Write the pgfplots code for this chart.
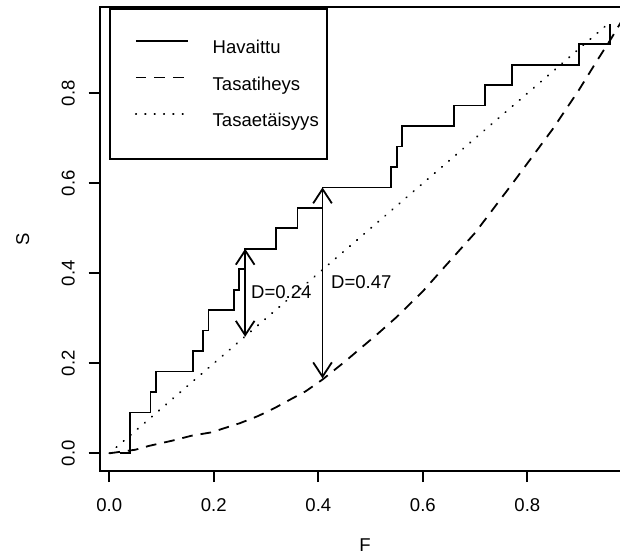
\documentclass[border=0pt]{standalone}
\usepackage{fontspec}
\setmainfont{Liberation Sans}
\usepackage{pgfplots}
\pgfplotsset{compat=1.18}
\usetikzlibrary{arrows.meta}

\tikzset{
  darrow/.style={line width=1.35pt, black,
    arrows={Straight Barb[length=10.7pt,width=14pt]-Straight Barb[length=10.7pt,width=14pt]}},
}

\begin{document}
\fontsize{13.9pt}{16.7pt}\selectfont
\begin{tikzpicture}
\begin{axis}[
    at={(75pt,63.2pt)}, anchor=south west,
    scale only axis,
    width=397.5pt, height=347.55pt,
    xmin=-0.0178, xmax=0.9964,
    ymin=-0.0387, ymax=0.9911,
    axis line style={line width=1.35pt},
    xtick={0,0.2,0.4,0.6,0.8},
    ytick={0,0.2,0.4,0.6,0.8},
    xtick pos=left, ytick pos=left,
    tick align=outside,
    major tick length=8.6pt,
    tick style={line width=1.35pt, black},
    xticklabel style={anchor=north, inner sep=0pt},
    yticklabel style={rotate=90, anchor=south, inner sep=0pt},
    xticklabel shift=11.9pt,
    yticklabel shift=10.1pt,
    /pgf/number format/fixed,
    /pgf/number format/fixed zerofill,
    /pgf/number format/precision=1,
    /pgf/number format/assume math mode=true,
    xlabel={F}, ylabel={S},
    xlabel style={at={(axis description cs:0.5,-0.160)}, anchor=center, inner sep=0pt},
    ylabel style={at={(axis description cs:-0.1458,0.5)}, anchor=center, inner sep=0pt},
    no markers,
    legend cell align=left,
    legend image code/.code={
        \path (-12.3pt,0pt);
        \draw[#1] (0pt,5pt) -- (39pt,5pt);
    },
    legend style={at={(axis cs:0,0.9889)}, anchor=north west,
        draw=black, line width=1.35pt, fill=white,
        inner xsep=6.2pt, inner ysep=23.3pt,
        row sep=16.1pt, column sep=18pt,
        nodes={inner sep=0pt, text height=10pt, text depth=1pt}},
]

% havaittu jakauma (porrasfunktio)
\addplot[black, line width=1.35pt, const plot mark left] coordinates {
    (0.020,0.0000) (0.040,0.0909) (0.079,0.1364) (0.090,0.1818)
    (0.160,0.2273) (0.180,0.2727) (0.190,0.3182) (0.239,0.3636)
    (0.248,0.4091) (0.260,0.4545) (0.319,0.5000) (0.360,0.5455)
    (0.408,0.5909) (0.539,0.6364) (0.550,0.6818) (0.560,0.7273)
    (0.660,0.7727) (0.719,0.8182) (0.770,0.8636) (0.899,0.9091)
    (0.958,0.9545)
};
\addlegendentry{Havaittu}

% tasatiheys
\addplot[black, line width=1.35pt, dash pattern=on 8pt off 6pt] coordinates {
    (0.000,0.000) (0.050,0.008) (0.076,0.0165) (0.120,0.028)
    (0.157,0.039) (0.195,0.0465) (0.250,0.067) (0.285,0.083)
    (0.317,0.101) (0.347,0.120) (0.376,0.138) (0.408,0.164)
    (0.450,0.203) (0.515,0.267) (0.550,0.303) (0.600,0.360)
    (0.639,0.411) (0.700,0.490) (0.773,0.602) (0.850,0.723)
    (0.900,0.810) (0.933,0.872) (0.960,0.921) (0.996,0.991)
};
\addlegendentry{Tasatiheys}

% tasaetäisyys
\addplot[black, line width=1.35pt, line cap=round, dash pattern=on 0.4pt off 6.6pt] coordinates {
    (0.000,0.000) (0.956,0.956)
};
\addlegendentry{Tasaetäisyys}

\addplot[darrow, forget plot] coordinates {(0.26,0.4545) (0.26,0.259)};
\addplot[darrow, forget plot] coordinates {(0.408,0.5909) (0.408,0.1667)};

\node[anchor=west, inner sep=0pt] at (axis cs:0.271,0.359) {D=0.24};
\node[anchor=west, inner sep=0pt] at (axis cs:0.424,0.381) {D=0.47};

\end{axis}
\pgfresetboundingbox
\useasboundingbox (0,0) rectangle (465pt,416.25pt);
\end{tikzpicture}
\end{document}
